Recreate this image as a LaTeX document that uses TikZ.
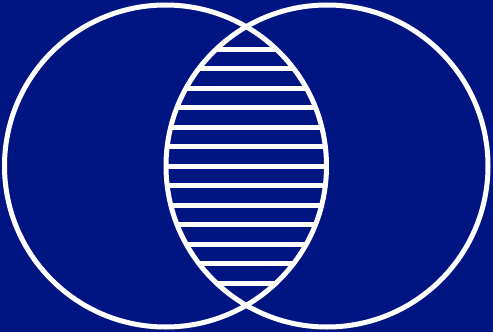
\documentclass[tikz,border=0pt]{standalone}
\usepackage{tikz}

\definecolor{vennblue}{RGB}{0,20,130}

\begin{document}
\begin{tikzpicture}[x=1pt,y=-1pt,
  ring/.style={draw=white,line width=5pt},
  hatchline/.style={draw=white,line width=5pt}]

% Background
\fill[vennblue] (0,0) rectangle (493,332);
\useasboundingbox (0,0) rectangle (493,332);

% Circle centres
\coordinate (L) at (165.5,166);
\coordinate (R) at (327,166);

% Hatching of the overlap
\begin{scope}
  \clip (L) circle (161);
  \clip (R) circle (161);
  \foreach \k in {-6,...,6}
    \draw[hatchline] (150,166+19.5*\k) -- (345,166+19.5*\k);
\end{scope}

% Left and right circles
\draw[ring] (L) circle (161);
\draw[ring] (R) circle (161);

\end{tikzpicture}
\end{document}
